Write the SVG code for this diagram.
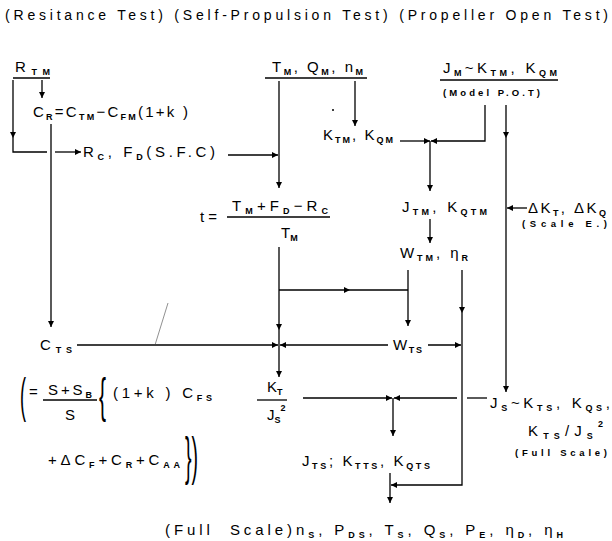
<svg xmlns="http://www.w3.org/2000/svg" width="612" height="541" viewBox="0 0 612 541">
<defs>
<marker id="ah" viewBox="0 0 10 10" refX="10" refY="5" markerWidth="8" markerHeight="6" orient="auto" markerUnits="userSpaceOnUse"><path d="M0,0 L10,5 L0,10 z" fill="#000"/></marker>
<style>
text{font-family:"Liberation Sans",Arial,sans-serif;font-size:15px;fill:#000}
.s{font-size:9px;font-weight:bold}
.sm{font-size:9.5px;font-weight:bold}
.c path,.c line{fill:none;stroke:#000;stroke-width:1.3}
.c .a{marker-end:url(#ah)}
.bar{stroke:#000;stroke-width:1.3}
</style>
</defs>
<rect width="612" height="541" fill="#fff"/>
<g id="title"><text x="5" y="20" textLength="603" lengthAdjust="spacing" style="font-size:14px">(Resitance Test) (Self-Propulsion Test) (Propeller Open Test)</text></g>

<g id="rtm"><text x="15" y="72" textLength="35">R<tspan class="s" dy="3">TM</tspan></text><line class="bar" x1="13" y1="78" x2="50" y2="78"/></g>
<g id="tqn"><text x="272" y="72" textLength="91">T<tspan class="s" dy="3">M</tspan><tspan dy="-3">, Q</tspan><tspan class="s" dy="3">M</tspan><tspan dy="-3">, n</tspan><tspan class="s" dy="3">M</tspan></text><line class="bar" x1="265" y1="78" x2="367" y2="78"/></g>
<g id="jm"><text x="443" y="73" textLength="114">J<tspan class="s" dy="3">M</tspan><tspan dy="-3">~K</tspan><tspan class="s" dy="3">TM</tspan><tspan dy="-3">, K</tspan><tspan class="s" dy="3">QM</tspan></text><line class="bar" x1="440" y1="80" x2="558" y2="80"/>
<text class="sm" x="443" y="96" textLength="97">(Model P.O.T)</text></g>

<g id="cr"><text x="33" y="117" textLength="155">C<tspan class="s" dy="3">R</tspan><tspan dy="-3">=C</tspan><tspan class="s" dy="3">TM</tspan><tspan dy="-3">−C</tspan><tspan class="s" dy="3">FM</tspan><tspan dy="-3">(1+k )</tspan></text></g>
<g id="ktm"><text x="323" y="140" textLength="70">K<tspan class="s" dy="3">TM</tspan><tspan dy="-3">, K</tspan><tspan class="s" dy="3">QM</tspan></text></g>
<g id="rc"><text x="83" y="157" textLength="132">R<tspan class="s" dy="3">C</tspan><tspan dy="-3">, F</tspan><tspan class="s" dy="3">D</tspan><tspan dy="-3">(S.F.C)</tspan></text></g>

<g id="t"><text x="200" y="222">t =</text><text x="232" y="211" textLength="96">T<tspan class="s" dy="3">M</tspan><tspan dy="-3">+F</tspan><tspan class="s" dy="3">D</tspan><tspan dy="-3">−R</tspan><tspan class="s" dy="3">C</tspan></text><line class="bar" x1="227" y1="217" x2="330" y2="217"/><text x="281" y="238">T<tspan class="s" dy="3">M</tspan></text></g>

<g id="jtm"><text x="402" y="212" textLength="85">J<tspan class="s" dy="3">TM</tspan><tspan dy="-3">, K</tspan><tspan class="s" dy="3">QTM</tspan></text></g>
<g id="dk"><text x="528" y="213" textLength="78">ΔK<tspan class="s" dy="3">T</tspan><tspan dy="-3">, ΔK</tspan><tspan class="s" dy="3">Q</tspan></text><text class="sm" x="522" y="227" textLength="85">(Scale E.)</text></g>
<g id="wtm"><text x="400" y="258" textLength="68">W<tspan class="s" dy="3">TM</tspan><tspan dy="-3">, η</tspan><tspan class="s" dy="3">R</tspan></text></g>

<g id="cts"><text x="40" y="350" textLength="32">C<tspan class="s" dy="3">TS</tspan></text></g>
<g id="wts"><text x="393" y="350" textLength="29">W<tspan class="s" dy="3">TS</tspan></text></g>

<g id="formula">
<text transform="translate(20,412) scale(1.2,3.2)">(</text>
<text x="29" y="397">=</text>
<text x="48" y="395" textLength="44">S+S<tspan class="s" dy="3">B</tspan></text>
<line class="bar" x1="43" y1="400" x2="97" y2="400"/>
<text x="65" y="420">S</text>
<text transform="translate(99,412) scale(1.4,3.2)">{</text>
<text x="113" y="398" textLength="99">(1+k ) C<tspan class="s" dy="3">FS</tspan></text>
<text x="48" y="465" textLength="132">+ΔC<tspan class="s" dy="3">F</tspan><tspan dy="-3">+C</tspan><tspan class="s" dy="3">R</tspan><tspan dy="-3">+C</tspan><tspan class="s" dy="3">AA</tspan></text>
<text transform="translate(185,474) scale(1.3,3.4)">})</text>
</g>

<g id="ktjs"><text x="267" y="392">K<tspan class="s" dy="3">T</tspan></text><line class="bar" x1="257" y1="400" x2="287" y2="400"/><text x="267" y="420">J<tspan class="s" dy="3">S</tspan><tspan class="s" dy="-12">2</tspan></text></g>

<g id="js"><text x="490" y="408" textLength="120">J<tspan class="s" dy="3">S</tspan><tspan dy="-3">~K</tspan><tspan class="s" dy="3">TS</tspan><tspan dy="-3">, K</tspan><tspan class="s" dy="3">QS</tspan><tspan dy="-3">,</tspan></text>
<text x="528" y="436" textLength="75">K<tspan class="s" dy="3">TS</tspan><tspan dy="-3">/J</tspan><tspan class="s" dy="3">S</tspan><tspan class="s" dy="-12">2</tspan></text>
<text class="sm" x="515" y="456" textLength="92">(Full Scale)</text></g>

<g id="jts"><text x="302" y="466" textLength="128">J<tspan class="s" dy="3">TS</tspan><tspan dy="-3">; K</tspan><tspan class="s" dy="3">TTS</tspan><tspan dy="-3">, K</tspan><tspan class="s" dy="3">QTS</tspan></text></g>

<g id="result"><text x="165" y="535" textLength="398" xml:space="preserve">(Full  Scale)n<tspan class="s" dy="3">S</tspan><tspan dy="-3">, P</tspan><tspan class="s" dy="3">DS</tspan><tspan dy="-3">, T</tspan><tspan class="s" dy="3">S</tspan><tspan dy="-3">, Q</tspan><tspan class="s" dy="3">S</tspan><tspan dy="-3">, P</tspan><tspan class="s" dy="3">E</tspan><tspan dy="-3">, η</tspan><tspan class="s" dy="3">D</tspan><tspan dy="-3">, η</tspan><tspan class="s" dy="3">H</tspan></text></g>

<g id="connectors" class="c">
<path class="a" d="M13,80 V138"/>
<path d="M13,138 V152 H47"/>
<path class="a" d="M55,152 H81"/>
<path class="a" d="M42,80 V98"/>
<path class="a" d="M51,124 V327"/>
<path class="a" d="M228,155 H278"/>
<path class="a" d="M279,81 V188"/>
<path class="a" d="M355,81 V126"/>
<path class="a" d="M400,141 H430"/>
<path class="a" d="M485,105 V141 H431"/>
<path class="a" d="M430,141 V191"/>
<path class="a" d="M430,219 V243"/>
<path class="a" d="M506,105 V138"/>
<path class="a" d="M506,138 V392"/>
<path class="a" d="M527,208 H507"/>
<path class="a" d="M279,247 V330"/>
<path class="a" d="M279,330 V377"/>
<path class="a" d="M77,345 H278"/>
<path class="a" d="M388,345 H280"/>
<path class="a" d="M279,290 H350"/>
<path d="M350,290 H408"/>
<path class="a" d="M408,270 V326"/>
<path class="a" d="M462,270 V313"/>
<path class="a" d="M462,313 V485 H391"/>
<path class="a" d="M428,345 H461"/>
<path class="a" d="M303,398 H392"/>
<path class="a" d="M457,398 H394"/>
<path d="M467,398 H487"/>
<path class="a" d="M393,398 V436"/>
<path class="a" d="M390,473 V503"/>
<path d="M168,303 L155,345" style="stroke-width:0.6;stroke:#444"/>
</g>
<circle cx="333" cy="110" r="1" fill="#000"/>
</svg>
